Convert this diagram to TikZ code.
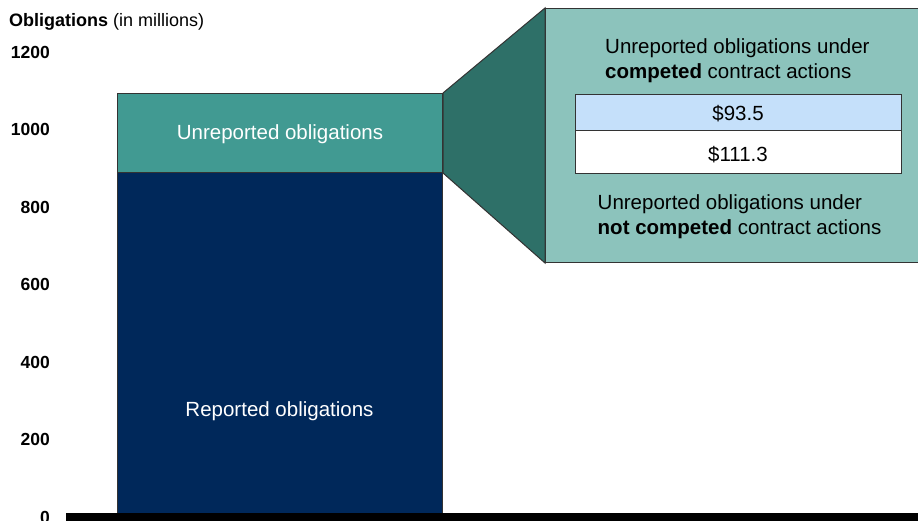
\documentclass[tikz,border=0pt]{standalone}
\usepackage{fontspec}
\setmainfont{Liberation Sans}
\definecolor{tealbar}{HTML}{419A92}
\definecolor{darkteal}{HTML}{2E7068}
\definecolor{lightteal}{HTML}{8CC3BC}
\definecolor{navybar}{HTML}{00285A}
\definecolor{paleblue}{HTML}{C5E0FA}
\definecolor{edge}{HTML}{333333}
\tikzset{
  barbox/.style={draw=edge, line width=1pt, inner sep=0pt, anchor=north west},
  ylab/.style={font=\fontsize{17.5}{20}\selectfont\bfseries, anchor=east, inner sep=0pt},
  bigtext/.style={font=\fontsize{20.5}{25}\selectfont, inner sep=0pt},
  cell/.style={draw=edge, line width=1pt, inner sep=0pt, minimum width=326pt, font=\fontsize{20.5}{25}\selectfont, anchor=north west}
}
\begin{document}
\begin{tikzpicture}[x=1pt,y=-1pt]
\useasboundingbox (0,0) rectangle (918,520);
% title
\node[anchor=west, inner sep=0pt, font=\fontsize{18}{20}\selectfont] (title) at (9,22) {\textbf{Obligations} (in millions)};
% y labels
\node[ylab] (y1200) at (50,52) {1200};
\node[ylab] (y1000) at (50,129.5) {1000};
\node[ylab] (y800) at (50,207) {800};
\node[ylab] (y600) at (50,284.5) {600};
\node[ylab] (y400) at (50,362) {400};
\node[ylab] (y200) at (50,439.5) {200};
\node[ylab] (y0) at (50,517) {0};
% bars
\node[barbox, fill=navybar, minimum width=325pt, minimum height=344pt] (rep) at (117,172) {};
\node[barbox, fill=tealbar, minimum width=325pt, minimum height=79pt, text=white, font=\fontsize{20.5}{25}\selectfont, text height=15pt, text depth=3pt] (unrep) at (117,93) {Unreported obligations};
\node[bigtext, text=white] (replab) at (279.5,411) {Reported obligations};
% axis
\fill[black] (66,513) rectangle (918,521);
% callout box
\node[barbox, fill=lightteal, minimum width=390pt, minimum height=254pt] (box) at (545,8) {};
\fill[darkteal, draw=edge, line width=1pt, line join=miter] (unrep.north east) -- (box.north west) -- (box.south west) -- (unrep.south east) -- cycle;
% texts in box
\node[bigtext, align=left, anchor=west] (comptext) at (605,60.5) {Unreported obligations under\\\textbf{competed} contract actions};
\node[cell, fill=paleblue, minimum height=36pt, text height=20pt, text depth=2.4pt] (c1) at (574.5,93.5) {\$93.5};
\node[cell, fill=white, minimum height=43pt, text height=22pt, text depth=1.4pt] (c2) at (574.5,129.5) {\$111.3};
\node[bigtext, align=left, anchor=west] (notcomptext) at (597.5,216.5) {Unreported obligations under\\\textbf{not competed} contract actions};
\end{tikzpicture}
\end{document}
